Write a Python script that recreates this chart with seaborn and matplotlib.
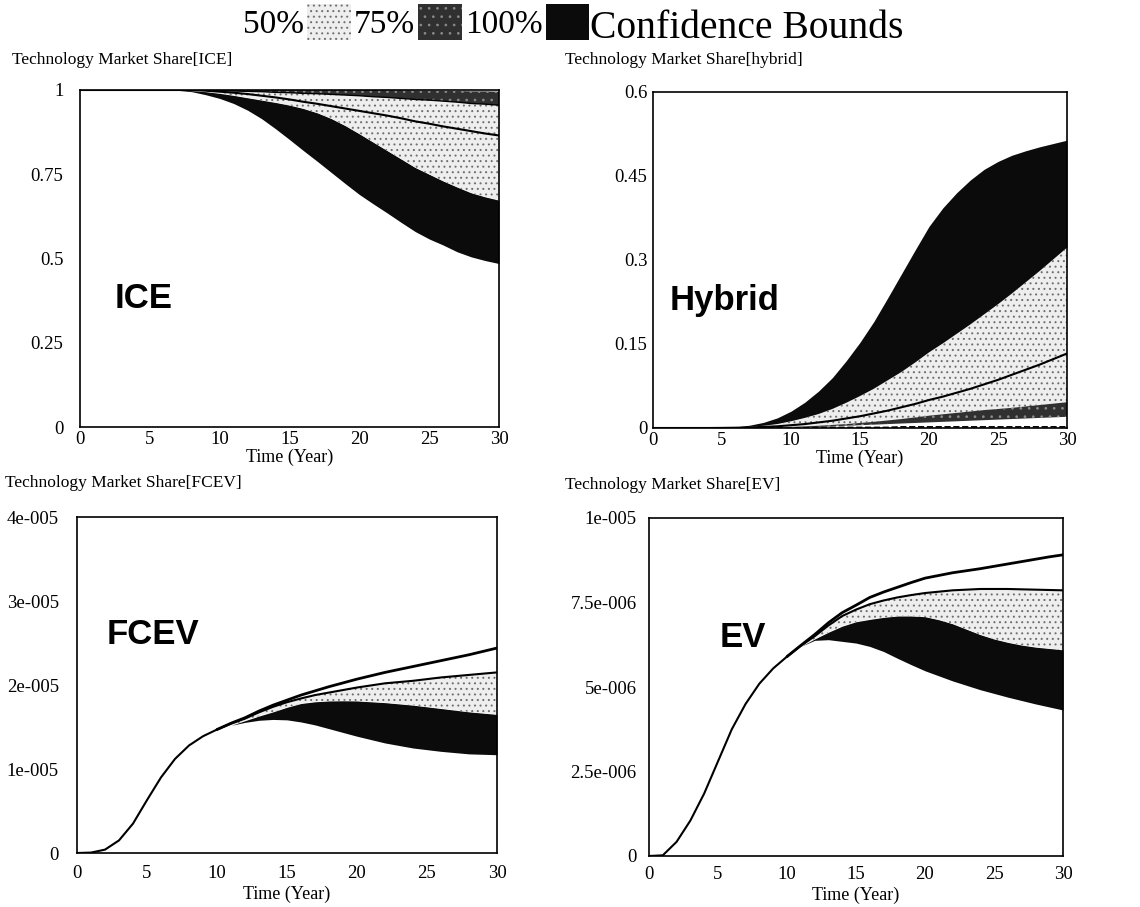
import numpy as np
import matplotlib
matplotlib.use("Agg")
import matplotlib.pyplot as plt
from matplotlib.patches import Patch
import seaborn as sns

# ---------------- data ----------------
years = list(range(0, 31))

# ICE market share
ice_min = [1, 1, 1, 1, 1, 1, 1, 0.999, 0.995, 0.986, 0.975, 0.96, 0.94, 0.915, 0.885, 0.853,
           0.82, 0.788, 0.755, 0.722, 0.69, 0.662, 0.635, 0.607, 0.58, 0.558, 0.54, 0.52,
           0.505, 0.494, 0.485]
ice_dark_top = [1, 1, 1, 1, 1, 1, 1, 1, 0.998, 0.995, 0.99, 0.984, 0.977, 0.97, 0.963, 0.955,
                0.945, 0.932, 0.915, 0.894, 0.87, 0.845, 0.82, 0.795, 0.77, 0.75, 0.73, 0.712,
                0.695, 0.683, 0.673]
ice_light_top = [1, 1, 1, 1, 1, 1, 1, 1, 1, 0.999, 0.998, 0.997, 0.996, 0.995, 0.993, 0.992,
                 0.99, 0.989, 0.987, 0.985, 0.983, 0.98, 0.978, 0.975, 0.972, 0.97, 0.967,
                 0.964, 0.96, 0.958, 0.955]
ice_max = [1, 1, 1, 1, 1, 1, 1, 1, 1, 1, 1, 1, 1, 1, 1, 1, 1, 1, 1, 1, 1, 1, 0.999, 0.999,
           0.998, 0.998, 0.997, 0.997, 0.996, 0.996, 0.995]
ice_median = [1, 1, 1, 1, 1, 1, 1, 1, 1, 0.998, 0.995, 0.992, 0.988, 0.983, 0.978, 0.972,
              0.965, 0.959, 0.952, 0.945, 0.938, 0.931, 0.924, 0.916, 0.907, 0.9, 0.892,
              0.885, 0.878, 0.871, 0.865]

# Hybrid market share
hyb_min = [0, 0, 0, 0, 0, 0, 0, 0, 0, 0, 0, 0, 0.001, 0.001, 0.001, 0.001, 0.001, 0.001,
           0.002, 0.002, 0.002, 0.002, 0.002, 0.002, 0.002, 0.002, 0.002, 0.002, 0.002,
           0.002, 0.002]
hyb_strip_lo = [0, 0, 0, 0, 0, 0, 0.0002, 0.0003, 0.0005, 0.0007, 0.001, 0.0015, 0.002,
                0.003, 0.004, 0.005, 0.006, 0.007, 0.008, 0.009, 0.01, 0.011, 0.012, 0.013,
                0.014, 0.015, 0.016, 0.017, 0.018, 0.019, 0.02]
hyb_strip_hi = [0, 0, 0, 0, 0, 0, 0.0003, 0.0006, 0.001, 0.0015, 0.002, 0.003, 0.004,
                0.0055, 0.007, 0.009, 0.011, 0.0135, 0.016, 0.019, 0.022, 0.0245, 0.027,
                0.0295, 0.032, 0.034, 0.036, 0.0385, 0.041, 0.0435, 0.046]
hyb_light_top = [0, 0, 0, 0, 0, 0.0005, 0.001, 0.002, 0.004, 0.007, 0.012, 0.018, 0.025,
                 0.034, 0.045, 0.057, 0.07, 0.085, 0.1, 0.117, 0.135, 0.151, 0.168, 0.185,
                 0.203, 0.221, 0.24, 0.26, 0.28, 0.301, 0.322]
hyb_max = [0, 0, 0, 0, 0, 0.001, 0.002, 0.005, 0.01, 0.018, 0.03, 0.046, 0.066, 0.09, 0.12,
           0.153, 0.19, 0.232, 0.275, 0.318, 0.36, 0.393, 0.42, 0.443, 0.462, 0.476, 0.487,
           0.495, 0.502, 0.508, 0.514]
hyb_median = [0, 0, 0, 0, 0, 0.0002, 0.0005, 0.001, 0.002, 0.003, 0.005, 0.007, 0.01, 0.013,
              0.017, 0.021, 0.026, 0.031, 0.037, 0.043, 0.05, 0.056, 0.063, 0.07, 0.078,
              0.086, 0.095, 0.104, 0.113, 0.123, 0.133]

# FCEV / EV: single early trajectory, then spread of runs
early_years = list(range(0, 11))
band_years = list(range(10, 31))

FCEV_UNIT = 1e-5
fcev_early = [0, 0.005, 0.04, 0.15, 0.35, 0.63, 0.9, 1.12, 1.28, 1.39, 1.47]
fcev_min = [1.47, 1.52, 1.555, 1.58, 1.59, 1.585, 1.56, 1.525, 1.48, 1.435, 1.39, 1.35, 1.31,
            1.28, 1.25, 1.23, 1.21, 1.195, 1.18, 1.175, 1.17]
fcev_dark_top = [1.47, 1.52, 1.575, 1.63, 1.68, 1.735, 1.78, 1.80, 1.81, 1.812, 1.81, 1.80,
                 1.79, 1.775, 1.76, 1.74, 1.72, 1.70, 1.68, 1.665, 1.65]
fcev_median = [1.47, 1.54, 1.60, 1.675, 1.74, 1.795, 1.84, 1.88, 1.91, 1.94, 1.97, 1.995, 2.02,
               2.035, 2.05, 2.07, 2.09, 2.105, 2.12, 2.135, 2.15]
fcev_max = [1.47, 1.545, 1.61, 1.69, 1.76, 1.82, 1.88, 1.93, 1.98, 2.025, 2.07, 2.11, 2.15,
            2.185, 2.22, 2.255, 2.29, 2.325, 2.36, 2.40, 2.44]

EV_UNIT = 1e-6
ev_early = [0, 0.02, 0.42, 1.05, 1.85, 2.8, 3.75, 4.5, 5.1, 5.55, 5.9]
ev_min = [5.9, 6.2, 6.38, 6.4, 6.35, 6.3, 6.2, 6.05, 5.85, 5.66, 5.48, 5.33, 5.18, 5.05, 4.92,
          4.81, 4.7, 4.6, 4.5, 4.41, 4.32]
ev_dark_top = [5.9, 6.2, 6.42, 6.62, 6.8, 6.93, 7.0, 7.06, 7.1, 7.1, 7.08, 6.99, 6.87, 6.71,
               6.55, 6.42, 6.32, 6.24, 6.18, 6.14, 6.1]
ev_median = [5.9, 6.22, 6.5, 6.82, 7.1, 7.29, 7.45, 7.56, 7.65, 7.72, 7.78, 7.82, 7.86, 7.88,
             7.9, 7.9, 7.9, 7.89, 7.88, 7.87, 7.86]
ev_max = [5.9, 6.23, 6.55, 6.9, 7.2, 7.42, 7.65, 7.81, 7.95, 8.09, 8.22, 8.3, 8.38, 8.44, 8.5,
          8.57, 8.64, 8.71, 8.78, 8.85, 8.91]

x_ticks = [0, 5, 10, 15, 20, 25, 30]
ice_yticks = [0, 0.25, 0.5, 0.75, 1]
ice_ylabels = ["0", "0.25", "0.5", "0.75", "1"]
hyb_yticks = [0, 0.15, 0.3, 0.45, 0.6]
hyb_ylabels = ["0", "0.15", "0.3", "0.45", "0.6"]
fcev_yticks = [0, 1e-5, 2e-5, 3e-5, 4e-5]
fcev_ylabels = ["0", "1e-005", "2e-005", "3e-005", "4e-005"]
ev_yticks = [0, 2.5e-6, 5e-6, 7.5e-6, 1e-5]
ev_ylabels = ["0", "2.5e-006", "5e-006", "7.5e-006", "1e-005"]

legend_labels = ["50%", "75%", "100%"]

# ---------------- style ----------------
sns.set_theme(style="white")
plt.rcParams["font.family"] = ["Liberation Serif", "DejaVu Serif"]
plt.rcParams["hatch.linewidth"] = 0.7
plt.rcParams["text.color"] = "black"
plt.rcParams["axes.labelcolor"] = "black"

BLACK = "#0b0b0b"
GRAY = "#303030"
GRAY_HATCH = "#8a8a8a"
LIGHT = "#eeeeee"
LIGHT_HATCH = "#6e6e6e"

fig = plt.figure(figsize=(11.4, 9.07), dpi=100)
W, H = 1140.0, 907.0


def add_axes(l, t, r, b):
    return fig.add_axes([l / W, 1 - b / H, (r - l) / W, (b - t) / H])


def band(ax, x, lo, hi, kind):
    if kind == "light":
        ax.fill_between(x, lo, hi, facecolor=LIGHT, edgecolor=LIGHT_HATCH,
                        hatch="...", linewidth=0)
    elif kind == "gray":
        ax.fill_between(x, lo, hi, facecolor=GRAY, edgecolor=GRAY_HATCH,
                        hatch="..", linewidth=0)
    else:
        ax.fill_between(x, lo, hi, facecolor=BLACK, linewidth=0)


def line(ax, x, y, lw=1.5, ls="-"):
    sns.lineplot(x=x, y=y, ax=ax, color="black", linewidth=lw, linestyle=ls,
                 legend=False)


def style_axes(ax, yticks, ylabels, ymax, ypad, xpad, lpad):
    ax.set_xlim(0, 30)
    ax.set_ylim(0, ymax)
    ax.set_xticks(x_ticks)
    ax.set_xticklabels([str(v) for v in x_ticks])
    ax.set_yticks(yticks)
    ax.set_yticklabels(ylabels)
    ax.tick_params(axis="both", length=0, labelsize=13.5, colors="black")
    ax.tick_params(axis="x", pad=xpad)
    ax.tick_params(axis="y", pad=ypad)
    ax.set_xlabel("Time (Year)", fontsize=13, labelpad=lpad, color="black")
    ax.set_ylabel("")
    for s in ax.spines.values():
        s.set_visible(True)
        s.set_color("black")
        s.set_linewidth(1.2)
    ax.set_facecolor("white")


def panel_label(ax, x, y, text):
    ax.text(x, y, text, transform=ax.transAxes, fontsize=25, fontweight="bold",
            family=["Liberation Sans", "DejaVu Sans"], va="center", ha="left",
            color="black")


# ---- ICE ----
ax1 = add_axes(80, 90, 499, 427)
band(ax1, years, ice_min, ice_dark_top, "black")
band(ax1, years, ice_dark_top, ice_light_top, "light")
band(ax1, years, ice_light_top, ice_max, "gray")
line(ax1, years, ice_median)
line(ax1, years, ice_light_top, lw=1.0)
style_axes(ax1, ice_yticks, ice_ylabels, 1.0, 12, 3, 0.5)
panel_label(ax1, 0.083, 0.38, "ICE")

# ---- Hybrid ----
ax2 = add_axes(653, 92, 1067, 428)
band(ax2, years, hyb_light_top, hyb_max, "black")
band(ax2, years, hyb_strip_hi, hyb_light_top, "light")
band(ax2, years, hyb_strip_lo, hyb_strip_hi, "gray")
line(ax2, years, hyb_median)
line(ax2, years, hyb_min, lw=1.2, ls="--")
style_axes(ax2, hyb_yticks, hyb_ylabels, 0.6, 4, 3, 0.5)
panel_label(ax2, 0.041, 0.38, "Hybrid")

# ---- FCEV ----
ax3 = add_axes(77, 517, 497, 853)
fu = FCEV_UNIT
band(ax3, band_years, np.array(fcev_min) * fu, np.array(fcev_dark_top) * fu, "black")
band(ax3, band_years, np.array(fcev_dark_top) * fu, np.array(fcev_median) * fu, "light")
line(ax3, early_years, np.array(fcev_early) * fu)
line(ax3, band_years, np.array(fcev_median) * fu)
line(ax3, band_years, np.array(fcev_max) * fu, lw=2.0)
style_axes(ax3, fcev_yticks, fcev_ylabels, 4e-5, 13, 8.5, 2.5)
panel_label(ax3, 0.071, 0.65, "FCEV")

# ---- EV ----
ax4 = add_axes(649, 518, 1063, 856)
eu = EV_UNIT
band(ax4, band_years, np.array(ev_min) * eu, np.array(ev_dark_top) * eu, "black")
band(ax4, band_years, np.array(ev_dark_top) * eu, np.array(ev_median) * eu, "light")
line(ax4, early_years, np.array(ev_early) * eu)
line(ax4, band_years, np.array(ev_median) * eu)
line(ax4, band_years, np.array(ev_max) * eu, lw=2.0)
style_axes(ax4, ev_yticks, ev_ylabels, 1e-5, 9, 7.5, 2.5)
panel_label(ax4, 0.17, 0.645, "EV")

# ---- titles ----
fig.text(12 / W, 1 - 60 / H, "Technology Market Share[ICE]", fontsize=12.5, va="center", ha="left")
fig.text(565 / W, 1 - 60 / H, "Technology Market Share[hybrid]", fontsize=12.5, va="center", ha="left")
fig.text(5 / W, 1 - 483 / H, "Technology Market Share[FCEV]", fontsize=12.5, va="center", ha="left")
fig.text(565 / W, 1 - 485 / H, "Technology Market Share[EV]", fontsize=12.5, va="center", ha="left")

# ---- legend ----
handles = [
    Patch(facecolor=LIGHT, edgecolor=LIGHT_HATCH, hatch="...", linewidth=0),
    Patch(facecolor=GRAY, edgecolor=GRAY_HATCH, hatch="..", linewidth=0),
    Patch(facecolor=BLACK, linewidth=0),
]
fig.legend(handles, legend_labels, loc="upper left", bbox_to_anchor=(243 / W, 1 - 4 / H),
           ncol=3, markerfirst=False, frameon=False, fontsize=24,
           handlelength=1.3, handleheight=1.3, handletextpad=0.1,
           columnspacing=0.1, borderpad=0, borderaxespad=0)
fig.text(590 / W, 1 - 38 / H, "Confidence Bounds", fontsize=28.5, va="baseline", ha="left")

fig.savefig("out.png", dpi=100, facecolor="white")
